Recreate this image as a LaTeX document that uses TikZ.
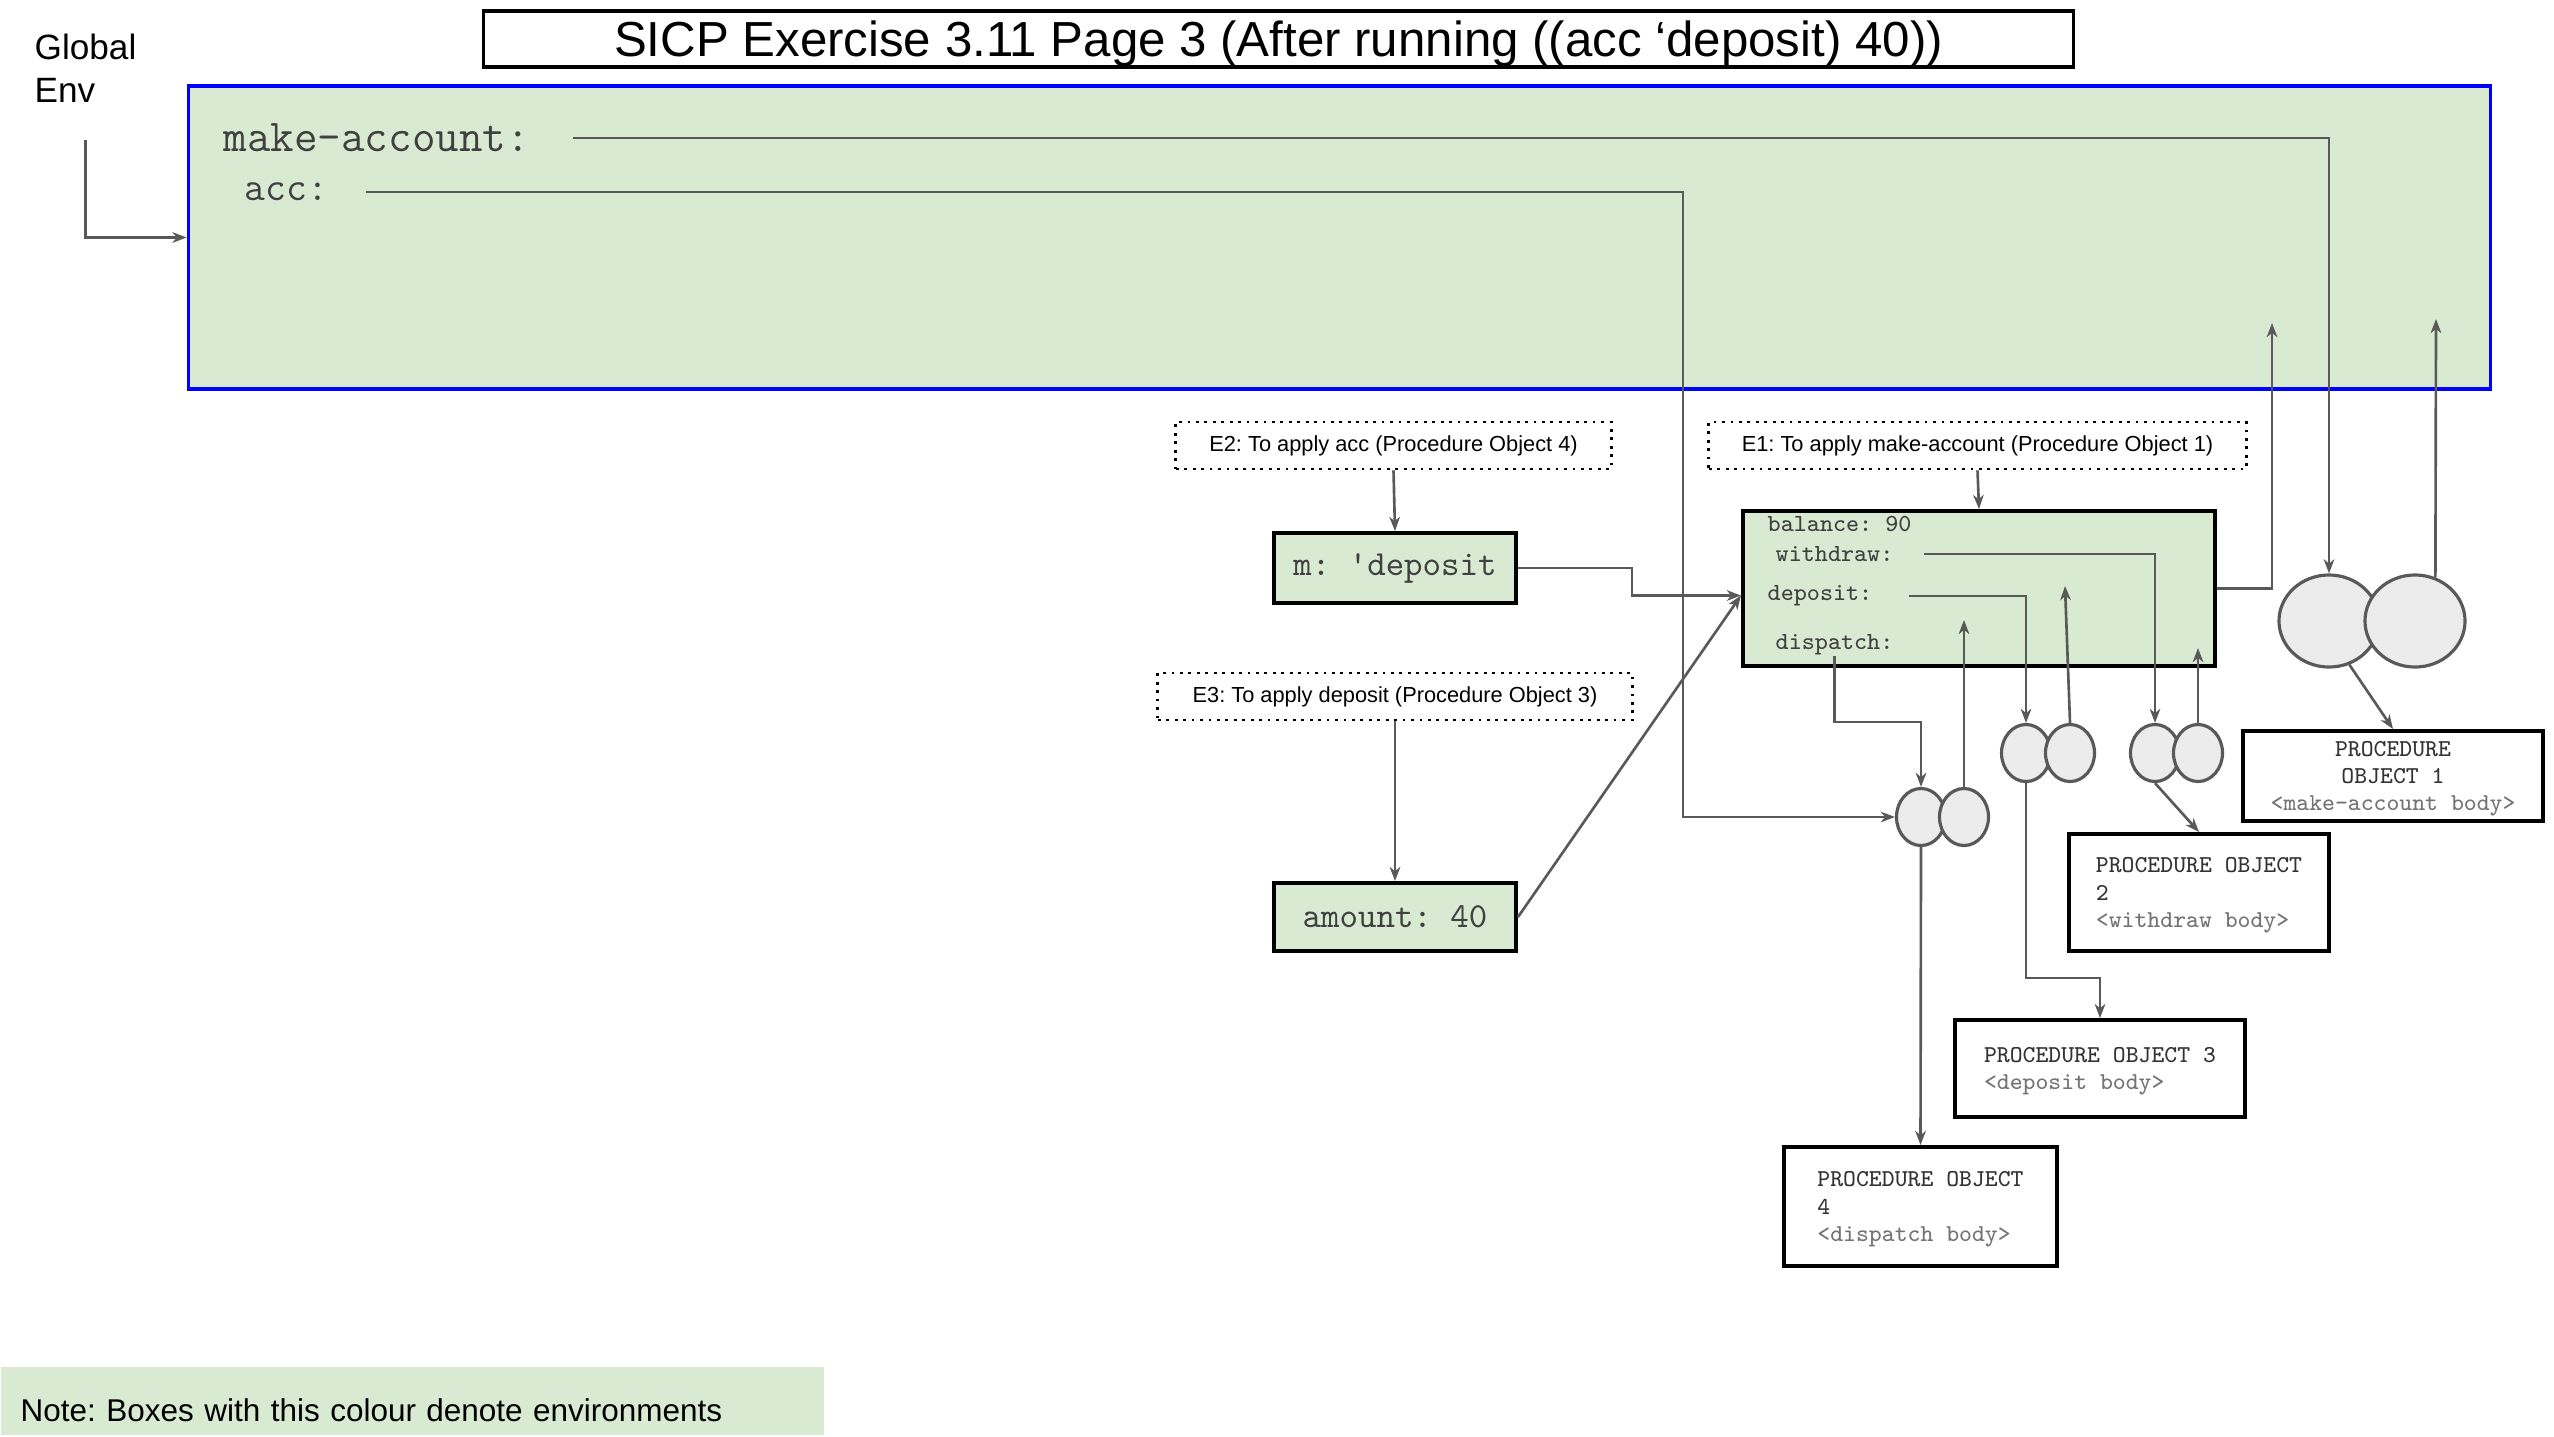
\documentclass[tikz,border=0pt]{standalone}
\usepackage{fontspec}
\setmainfont{Liberation Sans}
\usepackage{xcolor}
\usepackage{tikz}
\usetikzlibrary{shapes.geometric, arrows.meta, positioning}
\frenchspacing

\definecolor{envgreen}{HTML}{D9EAD3}
\definecolor{wiregray}{HTML}{595959}
\definecolor{cellgray}{HTML}{ECECEC}

\begin{document}
\begin{tikzpicture}[
    x=0.01cm, y=-0.01cm,
    env/.style={
        rectangle, draw, line width=1.1pt, fill=envgreen,
        inner sep=0pt, text=black!75,
        font=\ttfamily\fontsize{10}{12}\selectfont
    },
    envlabel/.style={
        rectangle, draw, dash pattern=on 0.8pt off 1.6pt, line width=0.8pt,
        minimum height=0.47cm, inner sep=0pt,
        font=\fontsize{6.2}{7}\selectfont
    },
    procbox/.style={
        rectangle, draw, line width=1.1pt, fill=white,
        inner sep=0pt, align=left, text=black!80, text depth=-6pt,
        font=\ttfamily\fontsize{6.9}{7.7}\selectfont
    },
    cell/.style={
        ellipse, draw=wiregray, line width=0.9pt, fill=cellgray,
        minimum width=0.49cm, minimum height=0.57cm, inner sep=0pt
    },
    bigcell/.style={cell, minimum width=1cm, minimum height=0.92cm},
    binding/.style={
        inner sep=0pt, anchor=west, text=black!75,
        font=\ttfamily\fontsize{7}{8}\selectfont
    },
    wire/.style={draw=wiregray, line width=0.75pt},
    arrow/.style={wire, -{Stealth[length=4pt, width=3pt, inset=1.2pt]}}
]
\useasboundingbox (0,0) rectangle (2554,1436);

% ── Title ──
\node[draw, line width=0.9pt, minimum width=15.89cm, minimum height=0.56cm,
      inner sep=0pt, text height=0.34cm, text depth=0pt,
      font=\fontsize{14}{16}\selectfont] (title) at (1278.5,39)
      {SICP Exercise 3.11 Page 3 (After running ((acc ‘deposit) 40))};

% ── Global environment ──
\node[env, draw=blue, line width=1pt, minimum width=23.01cm, minimum height=3.03cm] (global) at (1339.5,237.5) {};
\node[align=left, anchor=west, inner sep=0pt, font=\fontsize{10}{12.2}\selectfont] (genv) at (34,68.5) {Global\\Env};
\node[binding, font=\ttfamily\fontsize{13}{15}\selectfont] (makeacc) at (223,138) {make-account:};
\node[binding, font=\ttfamily\fontsize{11.5}{13}\selectfont] (acc) at (244,192) {acc:};

% ── Frames E1, E2, E3 ──
\node[envlabel, minimum width=4.35cm] (e2lbl) at (1393.5,445.5) {E2: To apply acc (Procedure Object 4)};
\node[envlabel, minimum width=4.74cm] (e3lbl) at (1395,696.5) {E3: To apply deposit (Procedure Object 3)};
\node[envlabel, minimum width=5.37cm] (e1lbl) at (1977.5,445.5) {E1: To apply make-account (Procedure Object 1)};

\node[env, minimum width=2.42cm, minimum height=0.70cm] (mbox) at (1395,568) {m: \textquotesingle deposit};
\node[env, minimum width=2.42cm, minimum height=0.68cm] (amt) at (1395,917) {amount: 40};
\node[env, minimum width=4.72cm, minimum height=1.55cm] (e1) at (1979,588.5) {};

\node[binding] (bal) at (1767,524) {balance: 90};
\node[binding] (wd) at (1775,554) {withdraw:};
\node[binding] (dep) at (1767,596) {deposit:};
\node[binding] (disp) at (1775,645) {dispatch:};

% ── Procedure pairs ──
\node[bigcell] (p1l) at (2329,621) {};
\node[bigcell] (p1r) at (2415,621) {};
\node[cell] (p2l) at (2026,753) {};
\node[cell] (p2r) at (2070,753) {};
\node[cell] (p3l) at (2155,753) {};
\node[cell] (p3r) at (2198,753) {};
\node[cell] (p4l) at (1921,817) {};
\node[cell] (p4r) at (1964,817) {};

% ── Procedure objects ──
\node[procbox, align=center, minimum width=3cm, minimum height=0.9cm] (po1) at (2393,776)
    {PROCEDURE\\OBJECT 1\\\textcolor{black!55}{<make-account body>}};
\node[procbox, minimum width=2.6cm, minimum height=1.17cm] (po2) at (2199,892.5)
    {PROCEDURE OBJECT\\2\\\textcolor{black!55}{<withdraw body>}};
\node[procbox, minimum width=2.9cm, minimum height=0.97cm] (po3) at (2100,1068.5)
    {PROCEDURE OBJECT 3\\\textcolor{black!55}{<deposit body>}};
\node[procbox, minimum width=2.73cm, minimum height=1.19cm] (po4) at (1920.5,1206.5)
    {PROCEDURE OBJECT\\4\\\textcolor{black!55}{<dispatch body>}};

% ── Note ──
\node[fill=envgreen, anchor=south west, text width=7.83cm, inner xsep=0.2cm,
      minimum height=0.68cm, text height=0.4cm, text depth=0pt, align=left,
      font=\fontsize{8.95}{11}\selectfont] (note) at (0,1436)
      {Note: Boxes with this colour denote environments};

% ── Pointer ends inside environments ──
\coordinate (gin1) at (2436,319);
\coordinate (gin2) at (2272,323);
\coordinate (e1in2) at (2065,586);
\coordinate (e1in3) at (2198,648);
\coordinate (e1in4) at (1964,620);

% ── Connections ──
\draw[arrow] ([yshift=-0.37cm]genv.south) |- (global.west);
\draw[arrow] ([xshift=0.42cm]makeacc.east) -| (p1l.north);
\draw[arrow] ([xshift=0.37cm]acc.east) -- (1683,192) |- (p4l.west);

\draw[arrow] (e2lbl.south) -- (mbox.north);
\draw[arrow] (e3lbl.south) -- (amt.north);
\draw[arrow] (e1lbl.south) -- (e1.north);
\draw[arrow] (mbox.east) -- ++(114,0) |- ([yshift=-0.07cm]e1.west);
\draw[arrow] (amt.east) -- ([yshift=-0.07cm]e1.west);

\draw[arrow] ([xshift=0.30cm]wd.east) -| (p3l.north);
\draw[arrow] ([xshift=0.36cm]dep.east) -| (p2l.north);
\draw[arrow] (disp.south) -- ++(0,66) -| (p4l.north);

\draw[arrow] (p1r.65) -- (gin1);
\draw[arrow] (e1.east) -| (gin2);
\draw[arrow] (p2r.north) -- (e1in2);
\draw[arrow] (p3r.north) -- (e1in3);
\draw[arrow] (p4r.north) -- (e1in4);

\draw[arrow] (p1l.-65) -- (po1.north);
\draw[arrow] (p3l.south) -- (po2.north);
\draw[arrow] (p2l.south) -- ++(0,195) -| (po3.north);
\draw[arrow] (p4l.south) -- (po4.north);

\end{tikzpicture}
\end{document}
